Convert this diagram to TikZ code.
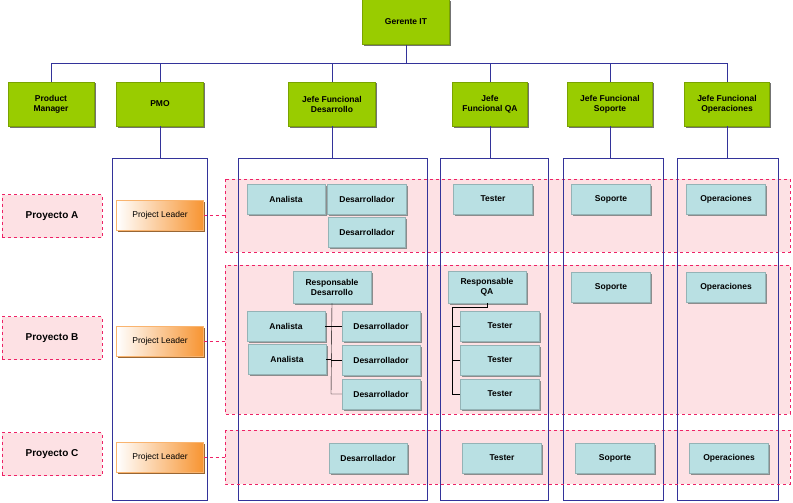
\documentclass[tikz,border=0pt]{standalone}
\usepackage{fontspec}
\setmainfont{Liberation Sans}
\usetikzlibrary{shadows}
\definecolor{verde}{HTML}{99CC00}
\definecolor{celeste}{HTML}{B9E0E3}
\definecolor{rosa}{HTML}{FDE1E4}
\definecolor{azul}{HTML}{33339A}
\definecolor{fucsia}{HTML}{EE2266}
\definecolor{naranja}{HTML}{F79431}
\tikzset{
  jefe/.style={fill=verde, draw=verde!80!black, align=center, font=\fontsize{8.5}{10}\selectfont\bfseries,
    drop shadow={shadow xshift=1.5pt, shadow yshift=-1.5pt, fill=black!55, opacity=1}},
  caja/.style={fill=celeste, draw=celeste!80!black, align=center, font=\fontsize{8.5}{10}\selectfont\bfseries,
    inner sep=0, minimum height=30pt,
    drop shadow={shadow xshift=1.5pt, shadow yshift=-1.5pt, fill=black!45, opacity=1}},
  lider/.style={left color=white, right color=naranja, draw=naranja!70, inner sep=0,
    minimum width=87pt, minimum height=30pt, font=\fontsize{8.5}{10}\selectfont,
    drop shadow={shadow xshift=1.5pt, shadow yshift=-1.5pt, fill=brown!80!black, opacity=1}},
  proyecto/.style={fill=rosa, draw=fucsia, dashed, thick, minimum width=100pt, minimum height=43pt,
    font=\fontsize{10}{12}\selectfont\bfseries},
  banda/.style={fill=rosa, draw=fucsia, dashed, thick},
  columna/.style={draw=azul},
  enlace/.style={draw=azul},
  rama/.style={draw=black}
}
\begin{document}
\begin{tikzpicture}[x=1pt, y=-1pt]
\useasboundingbox (0,0) rectangle (793,503);
% columnas
\draw[columna] (112,158) rectangle (207,500);
\draw[columna] (238,158) rectangle (427,500);
\draw[columna] (440,158) rectangle (548,500);
\draw[columna] (563,158) rectangle (663,500);
\draw[columna] (677,158) rectangle (778,500);
% bandas de proyecto
\path[banda] (225,179) rectangle (790,252);
\path[banda] (225,265) rectangle (790,414);
\path[banda] (225,430) rectangle (790,484);
\draw[columna] (238,179) -- (238,484) (427,179) -- (427,484) (440,179) -- (440,484)
  (548,179) -- (548,484) (563,179) -- (563,484) (663,179) -- (663,484)
  (677,179) -- (677,484) (778,179) -- (778,484);
% jerarquia
\node[jefe, minimum width=87pt, minimum height=45pt] (gerente) at (406,22) {Gerente IT};
\node[jefe, minimum width=86pt, minimum height=44pt] (pm) at (51,104) {Product\\Manager};
\node[jefe, minimum width=87pt, minimum height=44pt] (pmo) at (160,104) {PMO};
\node[jefe, minimum width=87pt, minimum height=44pt] (jdes) at (332,104) {Jefe Funcional\\Desarrollo};
\node[jefe, minimum width=75pt, minimum height=44pt] (jqa) at (490,104) {Jefe\\Funcional QA};
\node[jefe, minimum width=85pt, minimum height=44pt] (jsop) at (610,104) {Jefe Funcional\\Soporte};
\node[jefe, minimum width=85pt, minimum height=44pt] (jops) at (727,104) {Jefe Funcional\\Operaciones};
\coordinate (bus) at (406,63);
\draw[enlace] (gerente) -- (bus);
\foreach \n in {pm,pmo,jdes,jqa,jsop,jops}
  \draw[enlace] (\n.north) |- (bus);
\draw[enlace] (pmo.south) -- (160,158);
\draw[enlace] (jdes.south) -- (332,158);
\draw[enlace] (jqa.south) -- (490,158);
\draw[enlace] (jsop.south) -- (610,158);
\draw[enlace] (jops.south) -- (727,158);
% proyectos
\node[proyecto] (pa) at (52,216) {Proyecto A};
\node[proyecto] (pb) at (52,338) {Proyecto B};
\node[proyecto] (pc) at (52,454) {Proyecto C};
\node[lider] (la) at (160,215) {Project Leader};
\node[lider] (lb) at (160,341) {Project Leader};
\node[lider] (lc) at (160,457) {Project Leader};
\draw[fucsia, dashed, thick] (la.east) -- (225,215);
\draw[fucsia, dashed, thick] (lb.east) -- (225,341);
\draw[fucsia, dashed, thick] (lc.east) -- (225,457);
% proyecto A
\node[caja, minimum width=78pt] (ana1) at (286,199) {Analista};
\node[caja, minimum width=79pt] (desa1) at (367,199) {Desarrollador};
\node[caja, minimum width=77pt] (desa2) at (367,232) {Desarrollador};
\node[caja, minimum width=79pt] (testa) at (493,199) {Tester};
\node[caja, minimum width=79pt] (sopa) at (611,199) {Soporte};
\node[caja, minimum width=79pt] (opsa) at (726,199) {Operaciones};
% proyecto B
\node[caja, minimum width=78pt, minimum height=32pt] (rdes) at (332,287) {Responsable\\Desarrollo};
\node[caja, minimum width=78pt] (anb1) at (286,326) {Analista};
\node[caja, minimum width=78pt] (anb2) at (287,359) {Analista};
\node[caja, minimum width=78pt] (desb1) at (381,326) {Desarrollador};
\node[caja, minimum width=78pt] (desb2) at (381,360) {Desarrollador};
\node[caja, minimum width=78pt] (desb3) at (381,394) {Desarrollador};
\node[caja, minimum width=78pt, minimum height=32pt] (rqa) at (487,287) {Responsable\\QA};
\node[caja, minimum width=79pt] (testb1) at (500,326) {Tester};
\node[caja, minimum width=79pt] (testb2) at (500,360) {Tester};
\node[caja, minimum width=79pt] (testb3) at (500,394) {Tester};
\node[caja, minimum width=79pt] (sopb) at (611,287) {Soporte};
\node[caja, minimum width=79pt] (opsb) at (726,287) {Operaciones};
\coordinate (tronco) at (331,394);
\draw[rama] (rdes.south) -- (tronco) -- (desb3.west);
\foreach \n in {desb1,desb2}
  \draw[rama] (\n.west) -- (tronco |- \n.west);
\draw[rama] (anb1.east) -- (tronco |- anb1.east);
\draw[rama] (anb2.east) -- (tronco |- anb2.east);
\coordinate (codo) at (452,307);
\draw[rama] (rqa.south) |- (codo) |- (testb3.west);
\draw[rama] (testb1.west) -- (codo |- testb1.west);
\draw[rama] (testb2.west) -- (codo |- testb2.west);
% proyecto C
\node[caja, minimum width=78pt] (desc) at (368,458) {Desarrollador};
\node[caja, minimum width=79pt] (testc) at (502,458) {Tester};
\node[caja, minimum width=79pt] (sopc) at (615,458) {Soporte};
\node[caja, minimum width=79pt] (opsc) at (729,458) {Operaciones};
\end{tikzpicture}
\end{document}
